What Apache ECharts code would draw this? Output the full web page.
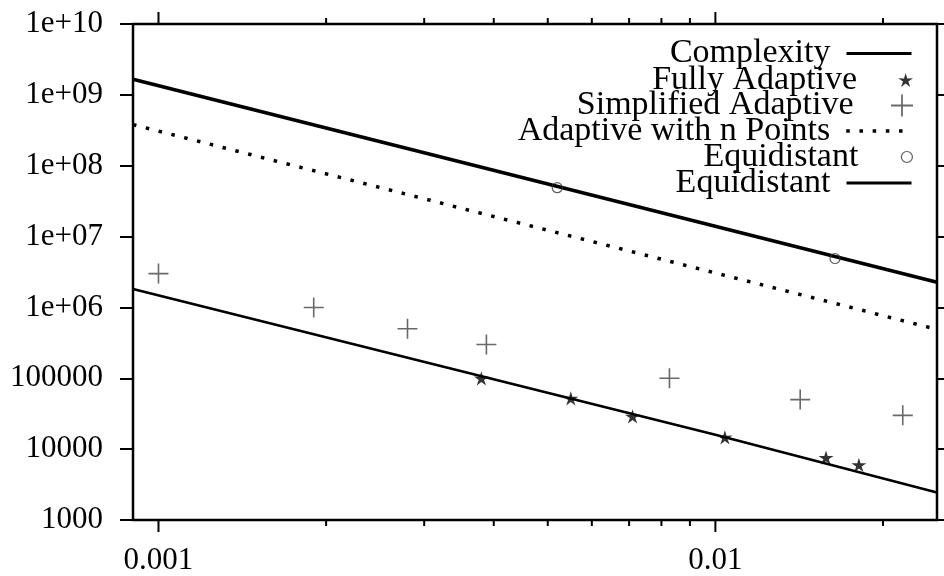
<!DOCTYPE html>
<html>
<head>
<meta charset="utf-8">
<script src="https://cdn.jsdelivr.net/npm/echarts@6/dist/echarts.min.js"></script>
<style>html,body{margin:0;padding:0;background:#fff}#c{width:944px;height:576px}</style>
</head>
<body>
<div id="c"></div>
<script>
// ---- data ----
var xMin = 0.0009, xMax = 0.025;
var yMin = 1000, yMax = 1e10;
var xMajorTicks = [0.001, 0.01];
var xMinorTicks = [0.002, 0.003, 0.004, 0.005, 0.006, 0.007, 0.008, 0.009, 0.02];
var complexity = [[0.0009, 1.82e6], [0.01, 1.6e4], [0.025, 2.45e3]];
var fullyAdaptive = [[0.0038, 1.0e5], [0.0055, 5.2e4], [0.0071, 2.9e4], [0.0104, 1.47e4], [0.0158, 7.6e3], [0.0181, 6.0e3]];
var simplifiedAdaptive = [[0.001, 3.0e6], [0.0019, 1.0e6], [0.0028, 5.0e5], [0.00388, 3.0e5], [0.00827, 1.0e5], [0.0142, 5.0e4], [0.0217, 3.0e4]];
var adaptiveN = [[0.0009, 3.8e8], [0.025, 4.9e5]];
var equidistantPts = [[0.0052, 4.9e7], [0.0164, 4.9e6]];
var equidistantLine = [[0.0009, 1.66e9], [0.025, 2.26e6]];

var FONT = 'Liberation Serif';

function starPath() {
  var pts = [];
  for (var k = 0; k < 10; k++) {
    var a = (-90 + 36 * k) * Math.PI / 180;
    var r = (k % 2) ? 3.6 : 10;
    pts.push((10 + r * Math.cos(a)).toFixed(2) + ',' + (10 + r * Math.sin(a)).toFixed(2));
  }
  return 'path://M' + pts.join(' L') + ' Z';
}
var STAR = starPath();
var PLUS = 'path://M0,9.2H20V10.8H0Z M9.2,0H10.8V20H9.2Z';

function isDecade(v) {
  var l = Math.log10(v);
  return Math.abs(l - Math.round(l)) < 1e-6;
}
function yFmt(v) {
  if (!isDecade(v)) return '';
  var e = Math.round(Math.log10(v));
  if (e < 6) return String(Math.round(v));
  return '1e+' + (e < 10 ? '0' : '') + e;
}
function xFmt(v) {
  if (!isDecade(v)) return '';
  var e = Math.round(Math.log10(v));
  return Math.pow(10, e).toFixed(-e);
}

function tickSeries(vals, len) {
  return {
    type: 'custom',
    silent: true,
    data: vals.map(function (v) { return [v, yMin]; }),
    encode: { x: 0, y: 1 },
    renderItem: function (params, api) {
      var v = api.value(0);
      var b = api.coord([v, yMin]);
      var t = api.coord([v, yMax]);
      return {
        type: 'group',
        children: [
          { type: 'line', shape: { x1: b[0], y1: b[1], x2: b[0], y2: b[1] + len }, style: { stroke: '#000', lineWidth: 2 } },
          { type: 'line', shape: { x1: t[0], y1: t[1], x2: t[0], y2: t[1] - len }, style: { stroke: '#000', lineWidth: 2 } }
        ]
      };
    }
  };
}

var legendRows = [
  { name: 'Complexity', center: 49.5, itemHeight: 20, line: { color: '#000', width: 3, type: 'solid' } },
  { name: 'Fully Adaptive', center: 76, itemHeight: 14 },
  { name: 'Simplified Adaptive', center: 101.5, itemHeight: 22 },
  { name: 'Adaptive with n Points', center: 127, itemHeight: 20, line: { color: '#000', width: 3.5, type: [3.5, 9.7], cap: 'butt' } },
  { name: 'Equidistant', center: 153, itemHeight: 11, border: 1.2 },
  { name: 'Equidistant (fit)', center: 179, itemHeight: 20, line: { color: '#000', width: 3, type: 'solid' } }
];

var legends = legendRows.map(function (r) {
  var lg = {
    orient: 'vertical',
    align: 'right',
    right: 31,
    top: r.center - 13,
    padding: 0,
    itemWidth: 65,
    itemHeight: r.itemHeight,
    selectedMode: false,
    data: [r.name],
    formatter: function (n) { return n.replace(' (fit)', ''); },
    textStyle: { fontFamily: FONT, fontSize: 34, color: '#000', lineHeight: 26, padding: [0, 11, 0, 0] }
  };
  if (r.line) {
    lg.lineStyle = r.line;
    lg.itemStyle = { opacity: 0 };
  }
  if (r.border) {
    lg.itemStyle = { borderWidth: r.border };
  }
  return lg;
});

var chart = echarts.init(document.getElementById('c'), null, { renderer: 'canvas' });
chart.setOption({
  animation: false,
  backgroundColor: '#fff',
  legend: legends,
  grid: { left: 133, right: 7, top: 24, bottom: 54, show: true, borderColor: '#000', borderWidth: 2.5, backgroundColor: 'transparent', containLabel: false },
  xAxis: [{
    type: 'log', logBase: 10, min: xMin, max: xMax, position: 'bottom',
    axisLine: { show: false }, axisTick: { show: false }, splitLine: { show: false }, minorTick: { show: false },
    axisLabel: { formatter: xFmt, fontFamily: FONT, fontSize: 31, color: '#000', margin: 25, showMinLabel: true, showMaxLabel: true, hideOverlap: false }
  }],
  yAxis: [{
    type: 'log', logBase: 10, min: yMin, max: yMax, position: 'left',
    axisLine: { show: false },
    axisTick: { show: true, inside: false, length: 13, lineStyle: { color: '#000', width: 2 } },
    splitLine: { show: false },
    axisLabel: { formatter: yFmt, fontFamily: FONT, fontSize: 31, color: '#000', margin: 30 }
  }, {
    type: 'log', logBase: 10, min: yMin, max: yMax, position: 'right',
    axisLine: { show: false },
    axisTick: { show: true, inside: false, length: 12, lineStyle: { color: '#000', width: 2 } },
    splitLine: { show: false },
    axisLabel: { show: false }
  }],
  series: [
    { name: 'Complexity', type: 'line', data: complexity, symbol: 'none', lineStyle: { color: '#000', width: 2.6 }, itemStyle: { color: '#000' }, z: 3 },
    { name: 'Fully Adaptive', type: 'scatter', data: fullyAdaptive, symbol: STAR, symbolSize: 15, symbolKeepAspect: true, itemStyle: { color: '#000' }, z: 4 },
    { name: 'Simplified Adaptive', type: 'scatter', data: simplifiedAdaptive, symbol: PLUS, symbolSize: 20, itemStyle: { color: '#444' }, z: 4 },
    { name: 'Adaptive with n Points', type: 'line', data: adaptiveN, symbol: 'none', lineStyle: { color: '#000', width: 3.5, type: [3.5, 9.7], cap: 'butt' }, itemStyle: { color: '#000' }, z: 3 },
    { name: 'Equidistant', type: 'scatter', data: equidistantPts, symbol: 'circle', symbolSize: 10, itemStyle: { color: 'transparent', borderColor: '#333', borderWidth: 1.2 }, z: 5 },
    { name: 'Equidistant (fit)', type: 'line', data: equidistantLine, symbol: 'none', lineStyle: { color: '#000', width: 3.6 }, itemStyle: { color: '#000' }, z: 3 },
    tickSeries(xMajorTicks, 12),
    tickSeries(xMinorTicks, 6)
  ]
});
</script>
</body>
</html>
